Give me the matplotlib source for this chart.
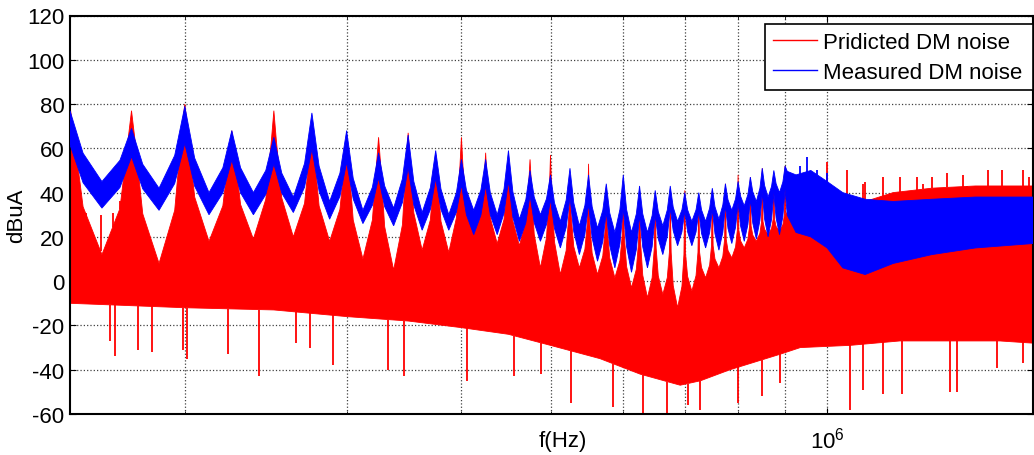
import numpy as np
import matplotlib.pyplot as plt
from matplotlib.ticker import LogLocator, NullFormatter
from matplotlib.lines import Line2D

plt.rcParams['font.family'] = ['Liberation Sans', 'DejaVu Sans']
plt.rcParams['mathtext.default'] = 'regular'
plt.rcParams['axes.unicode_minus'] = False

# harmonics of the 25 kHz switching frequency (kHz), values in dBuA
harm_khz = [150, 175, 200, 225, 250, 275, 300, 325, 350, 375, 400, 425, 450, 475, 500,
            525, 550, 575, 600, 625, 650, 675, 700, 725, 750, 775, 800, 825, 850, 875, 900]
red_spike = [79, 77, 80, 68, 77, 68, 64, 65, 67, 57, 65, 58, 54, 55, 57,
             48, 53, 42, 43, 39, 38, 36, 41, 38, 41, 44, 48, 47, 51, 47, 52]
red_body = [66, 64, 68, 58, 64, 58, 54, 54, 56, 48, 52, 46, 44, 44, 40,
            30, 27, 24, 21, 18, 15, 13, 12, 13, 16, 19, 23, 25, 27, 28, 30]
# red level half way to the next harmonic
red_valley = [12, 8, 18, 19, 20, 18, 10, 5, 14, 13, 21, 17, 16, 6, 3,
              6, 3, 1.5, -3, -7.5, -6, -12, -4.5, 1.5, 6, 10.5, 15, 18, 21, 22.5]
blue_peak = [77, 69, 79, 68, 65, 76, 68, 58, 66, 59, 55, 55, 59, 50, 48,
             51, 48, 44, 48, 43, 41, 43, 40, 40, 42, 44, 45, 47, 51, 50, 52]
blue_valley_top = [45, 42, 40, 40, 38, 36, 32, 33, 31, 30, 32, 30, 28, 30, 27,
                   25, 24, 22, 22, 22, 25, 27, 27, 27, 28, 32, 34, 36, 38, 40]
blue_valley_bot = [33, 32, 30, 30, 31, 28, 26, 25, 23, 23, 21, 21, 18, 18, 15,
                   12, 9, 6, 4, 6, 12, 16, 16, 15, 14, 17, 18, 19, 20, 21]

# above 900 kHz the harmonics merge into one band
band_khz = [925, 960, 1000, 1040, 1100, 1180, 1300, 1450, 1675]
red_band_top = [32, 36, 42, 38, 36, 40, 42, 43, 43]
blue_band_top = [48, 50, 45, 40, 37, 36, 37, 38, 38]
blue_band_bot = [22, 20, 15, 6, 3, 8, 12, 15, 17]

# lower edge of the red trace
red_floor_khz = [150, 200, 250, 300, 350, 400, 450, 500, 566, 626, 692, 728, 784,
                 889, 935, 1059, 1200, 1541, 1675]
red_floor_db = [-10, -12, -13, -16, -18, -21, -24, -29, -35, -42, -47, -45, -40,
                -33, -30, -29, -27, -27, -28]

# single spikes of the traces
red_up_khz = [156, 162, 167, 170, 1000, 1051, 1094, 1100, 1150, 1200, 1252, 1271,
              1300, 1350, 1405, 1420, 1496, 1550, 1633, 1660]
red_up_db = [28, 30, 31, 36, 54, 50, 44, 45, 47, 47, 47, 44, 47, 49, 48, 42, 50, 50, 50, 47]
red_dn_khz = [166, 168, 178, 184, 199, 201, 223, 241, 264, 274, 290, 333, 346, 406,
              456, 488, 526, 585, 631, 670, 705, 728, 800, 850, 889, 1059, 1094,
              1150, 1206, 1360, 1384, 1530, 1633]
red_dn_db = [-27, -34, -31, -32, -31, -35, -33, -43, -28, -30, -38, -40, -43, -45,
             -43, -42, -55, -57, -61, -60, -56, -58, -55, -52, -46, -58, -49,
             -51, -51, -50, -50, -39, -37]
blue_up_khz = [935, 951, 975, 1000]
blue_up_db = [52, 56, 50, 49]

SPACING = 25.0


def red_outline():
    xs, ys = [], []
    n = len(harm_khz)
    for i, fc in enumerate(harm_khz):
        b = red_body[i]
        if i > 0:
            lv = red_valley[i - 1]
            xs += [fc - 0.2 * SPACING, fc - 0.06 * SPACING]
            ys += [lv + 0.4 * (b - lv), b]
        xs += [fc]
        ys += [red_spike[i]]
        rv = red_valley[i] if i < n - 1 else red_band_top[0]
        xs += [fc + 0.06 * SPACING, fc + 0.2 * SPACING]
        ys += [b, rv + 0.4 * (b - rv)]
        if i < n - 1:
            xs += [fc + 0.5 * SPACING]
            ys += [red_valley[i]]
    xs += band_khz
    ys += red_band_top
    return np.array(xs), np.array(ys)


def blue_outline():
    tx, ty, bx, by = [], [], [], []
    n = len(harm_khz)
    for i, fc in enumerate(harm_khz):
        p = blue_peak[i]
        lt = blue_valley_top[i - 1] if i > 0 else None
        lb = blue_valley_bot[i - 1] if i > 0 else None
        rt = blue_valley_top[i] if i < n - 1 else blue_band_top[0]
        rb = blue_valley_bot[i] if i < n - 1 else blue_band_bot[0]
        vb = rb if lb is None else (lb + rb) / 2
        pl = p - 0.35 * (p - vb)
        if i > 0:
            tx += [fc - 0.2 * SPACING]
            ty += [lt + 0.4 * (p - lt)]
            bx += [fc - 0.2 * SPACING]
            by += [lb + 0.4 * (pl - lb)]
        tx += [fc, fc + 0.2 * SPACING]
        ty += [p, rt + 0.4 * (p - rt)]
        bx += [fc, fc + 0.2 * SPACING]
        by += [pl, rb + 0.4 * (pl - rb)]
        if i < n - 1:
            tx += [fc + 0.5 * SPACING]
            ty += [blue_valley_top[i]]
            bx += [fc + 0.5 * SPACING]
            by += [blue_valley_bot[i]]
    tx += band_khz
    ty += blue_band_top
    bx += band_khz
    by += blue_band_bot
    return np.array(tx), np.array(ty), np.array(bx), np.array(by)


fig = plt.figure(figsize=(10.34, 4.56), dpi=100)
ax = fig.add_axes([70 / 1034, 1 - 415 / 456, 963 / 1034, 398.5 / 456])

# red trace (predicted)
rx, ry = red_outline()
fx = np.array(red_floor_khz[::-1])
fy = np.array(red_floor_db[::-1])
ax.fill(np.concatenate([rx, fx]) * 1e3, np.concatenate([ry, fy]),
        color='red', lw=0.6, zorder=2)
top_at_up = np.interp(np.log(red_up_khz), np.log(rx), ry)
ax.vlines(np.array(red_up_khz) * 1e3, top_at_up, red_up_db, color='red', lw=1.3, zorder=2)
bot_at_dn = np.interp(np.log(red_dn_khz), np.log(red_floor_khz), red_floor_db)
ax.vlines(np.array(red_dn_khz) * 1e3, red_dn_db, bot_at_dn, color='red', lw=1.3, zorder=2)

# blue trace (measured)
tx, ty, bx, by = blue_outline()
ax.fill(np.concatenate([tx, bx[::-1]]) * 1e3, np.concatenate([ty, by[::-1]]),
        color='blue', lw=0.6, zorder=3)
btop = np.interp(np.log(blue_up_khz), np.log(tx), ty)
ax.vlines(np.array(blue_up_khz) * 1e3, btop, blue_up_db, color='blue', lw=1.3, zorder=3)

ax.set_xscale('log')
ax.set_xlim(150e3, 1.675e6)
ax.set_ylim(-60, 120)
ax.set_yticks(range(-60, 121, 20))
ax.xaxis.set_major_locator(LogLocator(base=10))
ax.xaxis.set_minor_locator(LogLocator(base=10, subs=range(2, 10)))
ax.xaxis.set_minor_formatter(NullFormatter())
ax.tick_params(which='both', direction='in', top=True, right=True, labelsize=16)
ax.tick_params(axis='y', pad=4)
ax.tick_params(axis='x', pad=9)
ax.tick_params(which='major', length=4)
ax.tick_params(which='minor', length=2.5)

ax.set_axisbelow(True)
ax.grid(True, which='major', ls=':', color='0.25', lw=0.9)
ax.grid(True, which='minor', axis='x', ls=':', color='0.25', lw=0.9)
for sp in ax.spines.values():
    sp.set_linewidth(1.5)

ax.set_ylabel('dBuA', fontsize=16, labelpad=0)
ax.set_xlabel('f(Hz)', fontsize=16)
ax.xaxis.set_label_coords(0.512, -0.04)

handles = [Line2D([], [], color='red', lw=1), Line2D([], [], color='blue', lw=1)]
leg_h = 63 / 398.5
leg_top = 1 - 8.5 / 398.5
leg = ax.legend(handles, ['Pridicted DM noise', 'Measured DM noise'],
                loc='upper left', bbox_to_anchor=(695 / 963, leg_top - leg_h, 268 / 963, leg_h),
                mode='expand', borderaxespad=0, fontsize=16, handlelength=2.0,
                labelspacing=0.4, fancybox=False, framealpha=1, edgecolor='black',
                borderpad=0.35, handletextpad=0.25)
leg.get_frame().set_linewidth(1.2)
leg.set_zorder(5)

fig.savefig('out.png', dpi=100)
